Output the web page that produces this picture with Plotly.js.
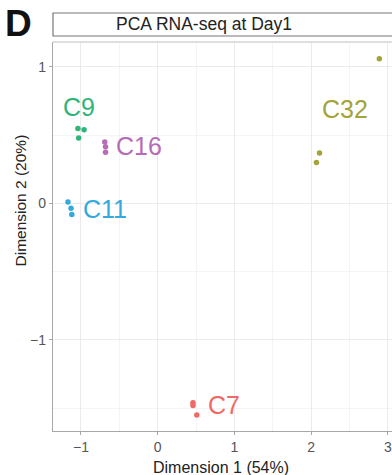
<!DOCTYPE html>
<html>
<head>
<meta charset="utf-8">
<script src="https://cdn.plot.ly/plotly-3.0.1.min.js"></script>
<style>
  html, body { margin: 0; padding: 0; background: #fff; }
  #chart { width: 392px; height: 475px; }
</style>
</head>
<body>
<div id="chart"></div>
<script>
// Samples grouped by clone, PCA coordinates (Dimension 1, Dimension 2)
const groups = ["C7", "C32", "C9", "C11", "C16"];
const colors = ["#ee6a66", "#a3a33a", "#2fb47a", "#33a9df", "#b66cb6"];

const dim1_C7  = [0.46, 0.46, 0.51];
const dim2_C7  = [-1.46, -1.48, -1.55];
const dim1_C32 = [2.89, 2.11, 2.07];
const dim2_C32 = [1.06, 0.37, 0.30];
const dim1_C9  = [-1.04, -0.96, -1.03];
const dim2_C9  = [0.55, 0.54, 0.48];
const dim1_C11 = [-1.17, -1.13, -1.12];
const dim2_C11 = [0.01, -0.035, -0.08];
const dim1_C16 = [-0.69, -0.68, -0.68];
const dim2_C16 = [0.45, 0.415, 0.375];

// Where each clone's name is written
const labelX = [0.86, 2.44, -1.03, -0.69, -0.25];
const labelY = [-1.48, 0.69, 0.71, -0.04, 0.42];

const xTicks = [-1, 0, 1, 2, 3];
const yTicks = [-1, 0, 1];

const FONT = "Liberation Sans, Arial, sans-serif";

const dim1 = [dim1_C7, dim1_C32, dim1_C9, dim1_C11, dim1_C16];
const dim2 = [dim2_C7, dim2_C32, dim2_C9, dim2_C11, dim2_C16];

const traces = groups.map((g, i) => ({
  type: "scatter",
  mode: "markers",
  name: g,
  x: dim1[i],
  y: dim2[i],
  marker: { color: colors[i], size: 5.5 },
  hoverinfo: "x+y+name"
}));

// Plot area geometry (pixels) used to place strip and titles
const W = 392, H = 475;
const M = { l: 53, r: 0, t: 42, b: 44 };
const pw = W - M.l - M.r, ph = H - M.t - M.b;
const px = p => (p - M.l) / pw;          // pixel x -> paper x
const py = p => 1 - (p - M.t) / ph;      // pixel y -> paper y

const annotations = groups.map((g, i) => ({
  x: labelX[i], y: labelY[i], xref: "x", yref: "y",
  text: g, showarrow: false,
  font: { family: FONT, size: 25, color: colors[i] },
  xanchor: "center", yanchor: "middle"
}));

annotations.push(
  { // panel letter
    x: px(3), y: py(24), xref: "paper", yref: "paper", text: "<b>D</b>",
    showarrow: false, xanchor: "left", yanchor: "middle",
    font: { family: FONT, size: 37, color: "#111" }
  },
  { // strip title
    x: px(204), y: py(24.5), xref: "paper", yref: "paper",
    text: "PCA RNA-seq at Day1", showarrow: false, xanchor: "center", yanchor: "middle",
    font: { family: FONT, size: 17.5, color: "#222" }
  },
  { // y-axis title
    x: px(20), y: py(200.5), xref: "paper", yref: "paper",
    text: "Dimension 2 (20%)", showarrow: false, textangle: -90,
    xanchor: "center", yanchor: "middle",
    font: { family: FONT, size: 15.5, color: "#222" }
  },
  { // x-axis title
    x: px(220.5), y: py(467), xref: "paper", yref: "paper",
    text: "Dimension 1 (54%)", showarrow: false,
    xanchor: "center", yanchor: "middle",
    font: { family: FONT, size: 16, color: "#222" }
  }
);

const axisCommon = {
  showline: true, linecolor: "#a8a8a8", linewidth: 1.2,
  ticks: "outside", ticklen: 3, tickcolor: "#a8a8a8", tickwidth: 1,
  showgrid: true, gridcolor: "#ebebeb", gridwidth: 1,
  zeroline: false, mirror: false,
  tickfont: { family: FONT, size: 14, color: "#555" },
  minor: { dtick: 0.5, showgrid: true, gridcolor: "#f4f4f4", gridwidth: 1 }
};

const minusSign = v => v < 0 ? "\u2212" + Math.abs(v) : String(v);

const layout = {
  width: W, height: H,
  margin: M,
  paper_bgcolor: "#fff", plot_bgcolor: "#fff",
  showlegend: false,
  xaxis: Object.assign({}, axisCommon, {
    range: [-1.365, 3.055], tickvals: xTicks, ticktext: xTicks.map(minusSign)
  }),
  yaxis: Object.assign({}, axisCommon, {
    range: [-1.667, 1.183], tickvals: yTicks, ticktext: yTicks.map(minusSign)
  }),
  shapes: [
    { // strip box
      type: "rect", xref: "paper", yref: "paper",
      x0: 0, x1: 1.05, y0: py(36), y1: py(13),
      line: { color: "#777", width: 1.2 }, fillcolor: "#fff"
    },
    { // panel top edge
      type: "line", xref: "paper", yref: "paper",
      x0: 0, x1: 1, y0: 1, y1: 1,
      line: { color: "#d4d4d4", width: 1.5 }
    }
  ],
  annotations: annotations
};

Plotly.newPlot("chart", traces, layout, { displayModeBar: false, staticPlot: true });
</script>
</body>
</html>
